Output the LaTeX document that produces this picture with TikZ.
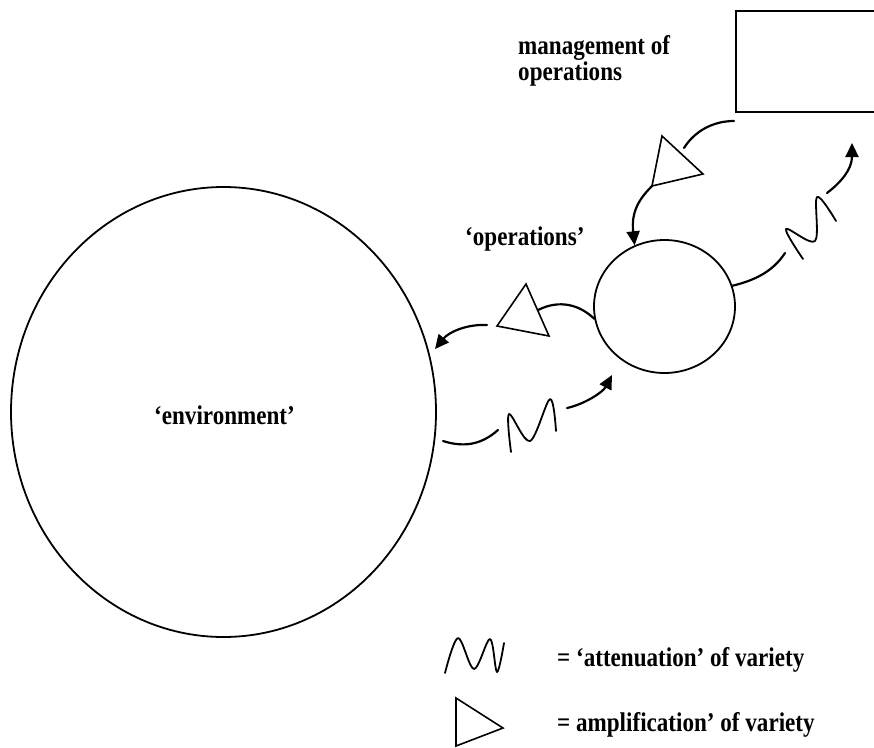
\documentclass[tikz,border=0pt]{standalone}
\usepackage{fontspec}
\setmainfont{Liberation Serif}
\newfontfamily\lblfont[FakeStretch=0.855]{Liberation Serif}
\usetikzlibrary{shapes.geometric,arrows.meta}

\begin{document}
\begin{tikzpicture}[x=1pt,y=-1pt,
  outline/.style={draw, line width=1.8pt, inner sep=0pt},
  link/.style={line width=2.2pt, line cap=round},
  tip/.style={-{Triangle[length=14pt,width=13pt]}},
  squiggle/.style={line width=1.8pt, line cap=round, line join=round},
  amp/.style={line width=1.6pt, line join=miter},
  lbl/.style={font=\lblfont\fontsize{27}{26.5}\selectfont\bfseries, inner sep=0pt},
]
\useasboundingbox (0,0) rectangle (874,747);
\clip (0,0) rectangle (874,747);

% main systems
\node[outline, ellipse, minimum width=425pt, minimum height=450pt] (env) at (223.5,412) {};
\node[lbl, anchor=base] (envtext) at (224.5,424) {‘environment’};
\node[outline, ellipse, minimum width=141pt, minimum height=133pt] (ops) at (664.5,306.5) {};
\node[lbl, anchor=base west] (opstext) at (465,245) {‘operations’};
\node[draw, line width=1.8pt, inner sep=0pt, anchor=north west,
      minimum width=200pt, minimum height=101pt] (mgmt) at (735,10) {};
\node[lbl, anchor=base west, align=left] (mgmttext) at (518,80.5) {management of\\operations};

% amplifiers
\coordinate (t1a) at (526,284);
\coordinate (t1b) at (497,326);
\coordinate (t1c) at (549,336);
\draw[amp] (t1a) -- (t1b) -- (t1c) -- cycle;
\coordinate (t2a) at (662,136);
\coordinate (t2b) at (703,174);
\coordinate (t2c) at (652,186);
\draw[amp] (t2a) -- (t2b) -- (t2c) -- cycle;

% attenuators
\draw[squiggle] plot[smooth, tension=0.55] coordinates
  {(511,452) (509,414) (530,441) (550,399) (556,431)};
\draw[squiggle] plot[smooth, tension=0.55] coordinates
  {(803,259) (786,229) (815,241) (817,197) (836,221)};

% management -> amplifier -> operations
\coordinate (m1) at (734,121);
\coordinate (m2) at (684,148);
\draw[link] (m1) .. controls (712,121) and (694,132) .. (m2);
\draw[link,tip] (t2c) .. controls (639,199) and (631,212) .. (ops.116);

% operations -> amplifier -> environment
\coordinate (o1) at (538,310);
\draw[link] (ops.190) .. controls (580,305) and (560,299) .. (o1);
\coordinate (o2) at (487,325);
\coordinate (o3) at (435,349);
\draw[link,tip] (o2) .. controls (465,324) and (448,333) .. (o3);

% environment -> attenuator -> operations
\coordinate (e1) at (443,441);
\coordinate (e2) at (498,430);
\draw[link] (e1) .. controls (462,447) and (480,446) .. (e2);
\coordinate (e3) at (567,408);
\coordinate (e4) at (612,375);
\draw[link,tip] (e3) .. controls (585,404) and (603,392) .. (e4);

% operations -> attenuator -> management
\coordinate (p1) at (785,253);
\draw[link] (ops.17) .. controls (752,281) and (772,273) .. (p1);
\coordinate (p2) at (827,193);
\coordinate (p3) at (852,143);
\draw[link,tip] (p2) .. controls (840,183) and (852,170) .. (p3);

% key
\draw[squiggle] plot[smooth, tension=0.55] coordinates
  {(445,673) (458,638) (474,669) (490,639) (497,672) (504,643)};
\node[lbl, anchor=base west] (keyatt) at (557,666) {= ‘attenuation’ of variety};
\coordinate (k1) at (456,698);
\coordinate (k2) at (503,728);
\coordinate (k3) at (456,746);
\draw[amp] (k1) -- (k2) -- (k3) -- cycle;
\node[lbl, anchor=base west] (keyamp) at (557,731) {= amplification’ of variety};
\end{tikzpicture}
\end{document}
